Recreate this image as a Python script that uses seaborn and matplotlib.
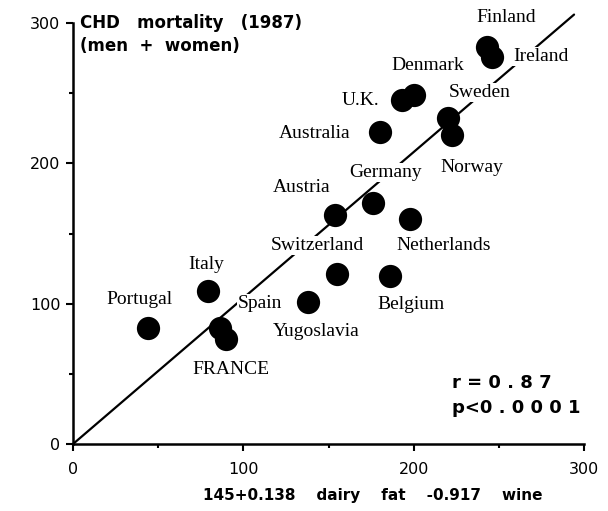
import matplotlib
matplotlib.use("Agg")
import matplotlib.pyplot as plt
import seaborn as sns
import pandas as pd

# country values
countries = ["Finland", "Ireland", "Denmark", "U.K.", "Australia", "Sweden",
             "Norway", "Germany", "Austria", "Netherlands", "Switzerland",
             "Belgium", "Yugoslavia", "Italy", "Portugal", "Spain", "FRANCE"]
predicted = [243, 246, 200, 193, 180, 220, 222.5, 176, 154, 198, 155,
             186, 138, 79, 44, 86, 90]
mortality = [283, 276, 249, 245, 222, 232, 220, 172, 163, 160, 121,
             120, 101, 109, 83, 83, 75]

# regression line
fit_x = [0, 294]
fit_y = [0, 306]

xticks = [0, 100, 200, 300]
yticks = [0, 100, 200, 300]
minor_ticks = [50, 150, 250]

# label offsets in points (dx, dy)
label_pos = {
    "Finland": (14, 21), "Ireland": (35, 0), "Denmark": (10, 21),
    "U.K.": (-30, 0), "Australia": (-47, -1), "Sweden": (23, 19),
    "Norway": (14, -23), "Germany": (9, 22), "Austria": (-24, 20),
    "Netherlands": (24, -19), "Switzerland": (-14, 21), "Belgium": (15, -21),
    "Yugoslavia": (6, -21), "Italy": (-1, 19), "Portugal": (-6, 20),
    "Spain": (29, 17), "FRANCE": (3, -22),
}

df = pd.DataFrame({"country": countries, "x": predicted, "y": mortality})

sns.set_style("ticks")
plt.rcParams["font.family"] = ["DejaVu Sans"]
plt.rcParams["text.color"] = "black"

fig = plt.figure(figsize=(6.08, 5.11), dpi=100)
ax = fig.add_axes([0.120, 0.131, 0.841, 0.824])

ax.plot(fit_x, fit_y, color="black", lw=1.6, zorder=1, clip_on=False)
sns.scatterplot(data=df, x="x", y="y", ax=ax, s=280, color="black",
                edgecolor="black", linewidth=0, zorder=3, legend=False,
                clip_on=False)

for name, xv, yv in zip(countries, predicted, mortality):
    dx, dy = label_pos[name]
    ax.annotate(name, (xv, yv), xytext=(dx, dy), textcoords="offset points",
                ha="center", va="center", fontsize=14, color="black",
                family="Liberation Serif", zorder=2,
                bbox=dict(boxstyle="square,pad=0.05", fc="white", ec="none"))

ax.set_xlim(0, 300)
ax.set_ylim(0, 300)
ax.set_xticks(xticks)
ax.set_yticks(yticks)
ax.set_xticks(minor_ticks, minor=True)
ax.set_yticks(minor_ticks, minor=True)
ax.tick_params(which="major", length=5, width=1.5, direction="out",
               labelsize=11.5, pad=8, color="black", labelcolor="black")
ax.tick_params(which="minor", length=3, width=1.5, direction="out",
               color="black")
ax.tick_params(axis="y", pad=4)

for side in ["top", "right"]:
    ax.spines[side].set_visible(False)
for side in ["left", "bottom"]:
    ax.spines[side].set_linewidth(1.8)
    ax.spines[side].set_color("black")

ax.set_xlabel("")
ax.set_ylabel("")

ax.text(0.014, 1.0, "CHD   mortality   (1987)", transform=ax.transAxes,
        fontsize=12, fontweight="bold", ha="left", va="center", color="black")
ax.text(0.014, 0.945, "(men  +  women)", transform=ax.transAxes,
        fontsize=12, fontweight="bold", ha="left", va="center", color="black")

ax.text(0.742, 0.145, "r = 0 . 8 7", transform=ax.transAxes,
        fontsize=13, fontweight="bold", ha="left", va="center", color="black")
ax.text(0.742, 0.086, "p<0 . 0 0 0 1", transform=ax.transAxes,
        fontsize=13, fontweight="bold", ha="left", va="center", color="black")

fig.text(0.613, 0.03, "145+0.138    dairy    fat    -0.917    wine",
         fontsize=11, fontweight="bold", ha="center", va="center",
         color="black")

fig.savefig("out.png", dpi=100)
